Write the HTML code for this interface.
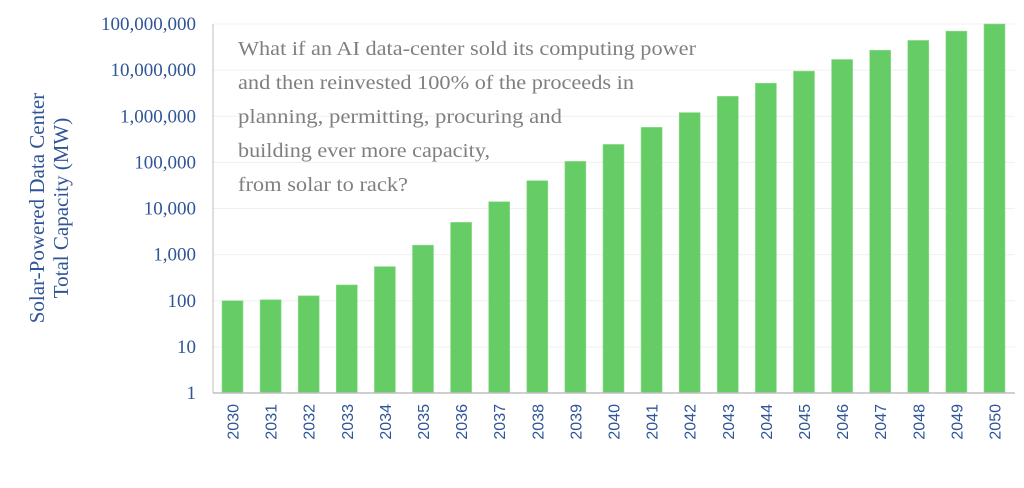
<!DOCTYPE html>
<html><head><meta charset="utf-8"><style>body{margin:0;background:#fff}svg{display:block}</style></head>
<body>
<svg id="chart" width="1024" height="488" xmlns="http://www.w3.org/2000/svg">
<g id="grid"></g>
<g id="bars"></g>
<g id="yt"></g>
<g id="xt"></g>
<line x1="213" y1="393" x2="1015" y2="393" stroke="#bfbfbf" stroke-width="1.5"/>
<line x1="213" y1="24" x2="213" y2="393" stroke="#bfbfbf" stroke-width="1"/>
<text transform="translate(44,208) rotate(-90)" text-anchor="middle" font-family="Liberation Serif, serif" font-size="21" fill="#2f5597"><tspan x="0" y="0">Solar-Powered Data Center</tspan><tspan x="0" y="24">Total Capacity (MW)</tspan></text>
<g font-family="Liberation Serif, serif" font-size="19.5" fill="#7f7f7f">
<text x="238" y="55" textLength="458" lengthAdjust="spacingAndGlyphs">What if an AI data-center sold its computing power</text>
<text x="238" y="89" textLength="396" lengthAdjust="spacingAndGlyphs">and then reinvested 100% of the proceeds in</text>
<text x="238" y="123" textLength="324" lengthAdjust="spacingAndGlyphs">planning, permitting, procuring and</text>
<text x="238" y="157" textLength="252" lengthAdjust="spacingAndGlyphs">building ever more capacity,</text>
<text x="238" y="191" textLength="170" lengthAdjust="spacingAndGlyphs">from solar to rack?</text>
</g>
</svg>
<script>
const years=["2030","2031","2032","2033","2034","2035","2036","2037","2038","2039","2040","2041","2042","2043","2044","2045","2046","2047","2048","2049","2050"];
const capacity=[100,105,128,220,550,1600,5000,14000,40000,105000,245000,575000,1200000,2700000,5200000,9500000,17000000,27000000,44000000,70000000,100000000];
const tickValues=[1,10,100,1000,10000,100000,1000000,10000000,100000000];
const tickLabels=["1","10","100","1,000","10,000","100,000","1,000,000","10,000,000","100,000,000"];
const NS="http://www.w3.org/2000/svg";
const y0=393,y1=24,x0=213,step=38.1;
function y(v){return y0-(Math.log10(v))/8*(y0-y1);}
function xc(i){return x0+19.5+i*step;}
function mk(t,a,p){const e=document.createElementNS(NS,t);for(const k in a)e.setAttribute(k,a[k]);p.appendChild(e);return e;}
const g=document.getElementById('grid'),yt=document.getElementById('yt'),b=document.getElementById('bars'),xt=document.getElementById('xt');
tickValues.forEach((v,i)=>{
  if(i>0){const l=mk('line',{x1:x0,x2:1015,y1:y(v),y2:y(v),stroke:'#f0f0f0','stroke-width':1},g);
  
  }
  const t=mk('text',{x:196,y:y(v)+6,'text-anchor':'end','font-family':'Liberation Serif, serif','font-size':'19',fill:'#2f5597'},yt);
  t.textContent=tickLabels[i];
  
  
});
years.forEach((yr,i)=>{
  const r=mk('rect',{x:xc(i)-10.5,y:y(capacity[i]),width:21,height:y0-y(capacity[i]),fill:'#66cc66',stroke:'#8fdc8f','stroke-width':0.6},b);
  
  
  const t=mk('text',{transform:`translate(${xc(i)+6},404) rotate(-90)`,'text-anchor':'end','font-family':'Liberation Sans, sans-serif','font-size':'16',fill:'#2f5597'},xt);
  t.textContent=yr;
  
  
});
</script>
</body></html>
